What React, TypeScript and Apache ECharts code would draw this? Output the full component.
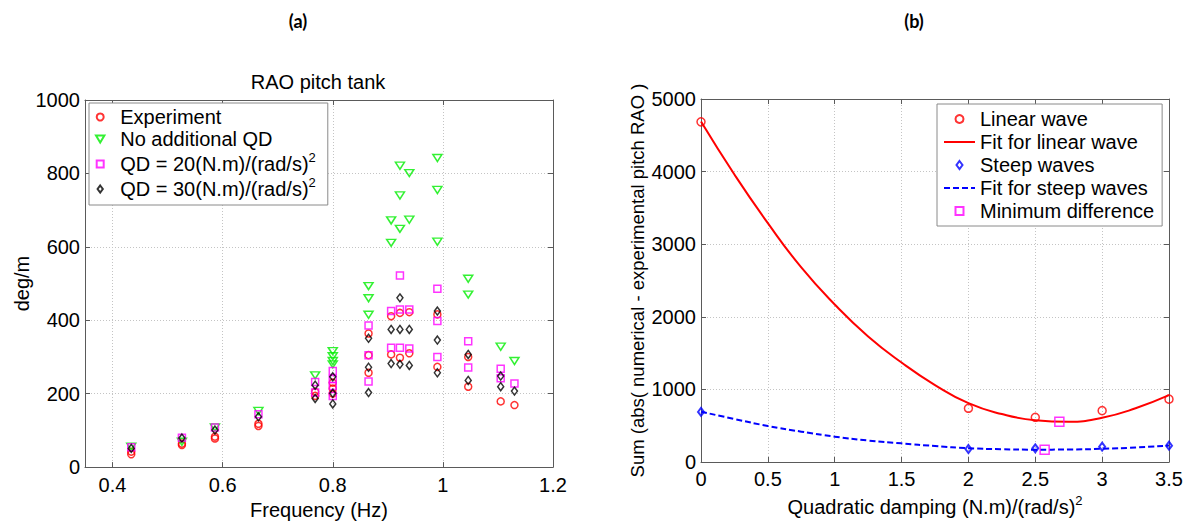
import React, { useEffect, useRef } from "react";
import * as echarts from "echarts";

const FONT = "'Liberation Sans', Arial, sans-serif";

// ---- Panel (a): RAO pitch tank, [frequency (Hz), deg/m] ----
const experiment: number[][] = [
  [0.434, 35], [0.434, 42],
  [0.526, 60], [0.526, 64],
  [0.586, 78], [0.586, 83],
  [0.665, 112], [0.665, 118],
  [0.768, 194], [0.768, 205],
  [0.8, 200], [0.8, 214], [0.8, 230],
  [0.865, 364], [0.865, 305], [0.865, 257],
  [0.906, 411], [0.906, 307],
  [0.922, 420], [0.922, 298],
  [0.939, 422], [0.939, 310],
  [0.99, 416], [0.99, 273],
  [1.046, 300], [1.046, 219],
  [1.105, 179],
  [1.13, 169],
];

const noAdditionalQD: number[][] = [
  [0.434, 56],
  [0.526, 69],
  [0.586, 108],
  [0.665, 153],
  [0.768, 250],
  [0.8, 316], [0.8, 302], [0.8, 289], [0.8, 280],
  [0.865, 493], [0.865, 460], [0.865, 415],
  [0.906, 672], [0.906, 611],
  [0.922, 821], [0.922, 740], [0.922, 649],
  [0.939, 801], [0.939, 674],
  [0.99, 842], [0.99, 755], [0.99, 614],
  [1.046, 513], [1.046, 470],
  [1.105, 328],
  [1.13, 289],
];

const qd20: number[][] = [
  [0.434, 54],
  [0.526, 80],
  [0.586, 108],
  [0.665, 144],
  [0.768, 232], [0.768, 203],
  [0.8, 262], [0.8, 240], [0.8, 221], [0.8, 194],
  [0.865, 386], [0.865, 305], [0.865, 233],
  [0.906, 425], [0.906, 325],
  [0.922, 522], [0.922, 429], [0.922, 325],
  [0.939, 429], [0.939, 323],
  [0.99, 486], [0.99, 398], [0.99, 300],
  [1.046, 343], [1.046, 271],
  [1.105, 268], [1.105, 242],
  [1.13, 228],
];

const qd30: number[][] = [
  [0.434, 51],
  [0.526, 79],
  [0.586, 101],
  [0.665, 137],
  [0.768, 223], [0.768, 187],
  [0.8, 246], [0.8, 201], [0.8, 172],
  [0.865, 351], [0.865, 272], [0.865, 203],
  [0.906, 375], [0.906, 282],
  [0.922, 461], [0.922, 375], [0.922, 280],
  [0.939, 375], [0.939, 277],
  [0.99, 425], [0.99, 346], [0.99, 257],
  [1.046, 307], [1.046, 236],
  [1.105, 248], [1.105, 219],
  [1.13, 207],
];

// ---- Panel (b): sum of differences vs quadratic damping ----
const dampingPoints = [0, 2, 2.5, 3, 3.5];
const linearWaveSum = [4685, 740, 616, 707, 866];
const steepWaveSum = [690, 179, 188, 211, 225];

const dampingFit = [0, 0.25, 0.5, 0.75, 1, 1.25, 1.5, 1.75, 2, 2.25, 2.5, 2.75, 3, 3.25, 3.5];
const linearWaveFit = [4690, 3960, 3290, 2680, 2170, 1730, 1370, 1060, 810, 660, 575, 553, 610, 740, 920];
const steepWaveFit = [693, 592, 496, 418, 349, 296, 257, 220, 190, 176, 170, 172, 182, 200, 226];

const minimumDifference: number[][] = [
  [2.68, 556],
  [2.57, 170],
];

const zip = (xs: number[], ys: number[]) => xs.map((x, i) => [x, ys[i]]);

// Legend marker outlines (kept square so they are not stretched to the icon box)
const ICON_SQUARE = "path://M0,0L8,0L8,8L0,8Z";
const ICON_DIAMOND = "path://M3,0L6,4L3,8L0,4Z";
const ICON_TRIANGLE_DOWN = "path://M0,0L9,0L4.5,7.5Z";

const axisLine = { show: true, onZero: false, lineStyle: { color: "#5a5a5a", width: 1 } };
const axisTick = { show: true, inside: true, length: 5, lineStyle: { color: "#5a5a5a" } };
const splitLine = { show: true, lineStyle: { color: "#c4c4c4", type: [1, 2], width: 1 } };
const axisLabel = {
  color: "#000",
  fontSize: 20,
  fontFamily: FONT,
  formatter: (v: number) => String(v),
};

const hollow = (color: string, width = 1.5) => ({
  color: "rgba(0,0,0,0)",
  borderColor: color,
  borderWidth: width,
});

const noMarker = { color: "rgba(0,0,0,0)", borderColor: "rgba(0,0,0,0)", borderWidth: 0 };

const richText = (lineHeight: number) => ({
  t: { fontSize: 20, lineHeight, fontFamily: FONT, color: "#000" },
  sup: { fontSize: 13, lineHeight: 13, verticalAlign: "top", fontFamily: FONT, color: "#000" },
});

export default function App() {
  const ref = useRef<HTMLDivElement>(null);

  useEffect(() => {
    if (!ref.current) return;
    const chart = echarts.init(ref.current, undefined, { renderer: "svg" });

    const option: any = {
      animation: false,
      backgroundColor: "#fff",
      textStyle: { fontFamily: FONT },
      graphic: [
        {
          type: "text",
          x: 298,
          y: 21,
          style: {
            text: "(a)",
            font: "bold 18px Lato, 'Open Sans', sans-serif",
            fill: "#000",
            textAlign: "center",
            textVerticalAlign: "middle",
          },
        },
        {
          type: "text",
          x: 914,
          y: 21,
          style: {
            text: "(b)",
            font: "bold 18px Lato, 'Open Sans', sans-serif",
            fill: "#000",
            textAlign: "center",
            textVerticalAlign: "middle",
          },
        },
        {
          type: "text",
          x: 318,
          y: 82,
          style: {
            text: "RAO pitch tank",
            font: `20px ${FONT}`,
            fill: "#000",
            textAlign: "center",
            textVerticalAlign: "middle",
          },
        },
      ],
      grid: [
        { left: 85, top: 100, width: 468, height: 368 },
        { left: 701, top: 99, width: 468, height: 363 },
      ],
      xAxis: [
        {
          gridIndex: 0,
          type: "value",
          position: "bottom",
          min: 0.35,
          max: 1.2,
          splitNumber: 5,
          axisLine,
          axisTick,
          splitLine,
          axisLabel: { ...axisLabel, margin: 8, showMinLabel: false },
          name: "Frequency (Hz)",
          nameLocation: "middle",
          nameGap: 28,
          nameTextStyle: { fontSize: 20, color: "#000", fontFamily: FONT },
        },
        {
          gridIndex: 0,
          type: "value",
          position: "top",
          min: 0.35,
          max: 1.2,
          splitNumber: 5,
          axisLine,
          axisTick,
          splitLine: { show: false },
          axisLabel: { show: false },
        },
        {
          gridIndex: 1,
          type: "value",
          position: "bottom",
          min: 0,
          max: 3.5,
          interval: 0.5,
          axisLine,
          axisTick,
          splitLine,
          axisLabel: { ...axisLabel, margin: 7 },
          name: "{t|Quadratic damping (N.m)/(rad/s)}{sup|2}",
          nameLocation: "middle",
          nameGap: 24,
          nameTextStyle: { fontSize: 20, color: "#000", fontFamily: FONT, rich: richText(26) },
        },
        {
          gridIndex: 1,
          type: "value",
          position: "top",
          min: 0,
          max: 3.5,
          interval: 0.5,
          axisLine,
          axisTick,
          splitLine: { show: false },
          axisLabel: { show: false },
        },
      ],
      yAxis: [
        {
          gridIndex: 0,
          type: "value",
          position: "left",
          min: 0,
          max: 1000,
          interval: 200,
          axisLine,
          axisTick,
          splitLine,
          axisLabel: { ...axisLabel, margin: 5 },
          name: "deg/m",
          nameLocation: "middle",
          nameGap: 42,
          nameRotate: 90,
          nameTextStyle: { fontSize: 20, color: "#000", fontFamily: FONT },
        },
        {
          gridIndex: 0,
          type: "value",
          position: "right",
          min: 0,
          max: 1000,
          interval: 200,
          axisLine,
          axisTick,
          splitLine: { show: false },
          axisLabel: { show: false },
        },
        {
          gridIndex: 1,
          type: "value",
          position: "left",
          min: 0,
          max: 5000,
          interval: 1000,
          axisLine,
          axisTick,
          splitLine,
          axisLabel: { ...axisLabel, margin: 5 },
          name: "Sum (abs( numerical - experimental pitch RAO )",
          nameLocation: "middle",
          nameGap: 54,
          nameRotate: 90,
          nameTextStyle: { fontSize: 18.5, color: "#000", fontFamily: FONT },
        },
        {
          gridIndex: 1,
          type: "value",
          position: "right",
          min: 0,
          max: 5000,
          interval: 1000,
          axisLine,
          axisTick,
          splitLine: { show: false },
          axisLabel: { show: false },
        },
      ],
      legend: [
        {
          data: [
            { name: "Experiment", icon: "circle" },
            { name: "No additional QD", icon: ICON_TRIANGLE_DOWN },
            { name: "QD = 20(N.m)/(rad/s)", icon: ICON_SQUARE },
            { name: "QD = 30(N.m)/(rad/s)", icon: ICON_DIAMOND },
          ],
          orient: "vertical",
          left: 89,
          top: 103,
          padding: [4, 12, 6, 6],
          itemGap: 2,
          itemWidth: 30,
          itemHeight: 7,
          selectedMode: false,
          backgroundColor: "#fff",
          borderColor: "#8a8a8a",
          borderWidth: 1,
          formatter: (name: string) =>
            name.startsWith("QD") ? `{t|${name}}{sup|2}` : `{t|${name}}`,
          textStyle: { fontSize: 20, color: "#000", fontFamily: FONT, rich: richText(26) },
        },
        {
          data: [
            { name: "Linear wave", icon: "circle" },
            { name: "Fit for linear wave", itemStyle: noMarker },
            { name: "Steep waves", icon: ICON_DIAMOND },
            { name: "Fit for steep waves", itemStyle: noMarker },
            { name: "Minimum difference", icon: ICON_SQUARE },
          ],
          orient: "vertical",
          left: 937,
          top: 104,
          padding: [5, 8, 5, 6],
          itemGap: 3,
          itemWidth: 31,
          itemHeight: 8,
          selectedMode: false,
          backgroundColor: "#fff",
          borderColor: "#8a8a8a",
          borderWidth: 1,
          formatter: (name: string) => `{t|${name}}`,
          textStyle: { fontSize: 20, color: "#000", fontFamily: FONT, rich: richText(22) },
        },
      ],
      series: [
        {
          name: "Experiment",
          type: "scatter",
          xAxisIndex: 0,
          yAxisIndex: 0,
          symbol: "circle",
          symbolSize: 7,
          itemStyle: hollow("#ff0000"),
          data: experiment,
          z: 3,
        },
        {
          name: "No additional QD",
          type: "scatter",
          xAxisIndex: 0,
          yAxisIndex: 0,
          symbol: "triangle",
          symbolRotate: 180,
          symbolSize: [9, 7],
          itemStyle: hollow("#00ee00"),
          data: noAdditionalQD,
          z: 3,
        },
        {
          name: "QD = 20(N.m)/(rad/s)",
          type: "scatter",
          xAxisIndex: 0,
          yAxisIndex: 0,
          symbol: "rect",
          symbolSize: 7,
          itemStyle: hollow("#ff00ff"),
          data: qd20,
          z: 3,
        },
        {
          name: "QD = 30(N.m)/(rad/s)",
          type: "scatter",
          xAxisIndex: 0,
          yAxisIndex: 0,
          symbol: "diamond",
          symbolSize: [6, 8],
          itemStyle: hollow("#000000"),
          data: qd30,
          z: 4,
        },
        {
          name: "Fit for linear wave",
          type: "line",
          xAxisIndex: 2,
          yAxisIndex: 2,
          smooth: true,
          symbol: "none",
          color: "#ff0000",
          lineStyle: { color: "#ff0000", width: 2 },
          data: zip(dampingFit, linearWaveFit),
          z: 2,
        },
        {
          name: "Fit for steep waves",
          type: "line",
          xAxisIndex: 2,
          yAxisIndex: 2,
          smooth: true,
          symbol: "none",
          color: "#0000ff",
          lineStyle: { color: "#0000ff", width: 2, type: [6, 3] },
          data: zip(dampingFit, steepWaveFit),
          z: 2,
        },
        {
          name: "Linear wave",
          type: "scatter",
          xAxisIndex: 2,
          yAxisIndex: 2,
          symbol: "circle",
          symbolSize: 8,
          itemStyle: hollow("#ff0000"),
          data: zip(dampingPoints, linearWaveSum),
          z: 3,
        },
        {
          name: "Steep waves",
          type: "scatter",
          xAxisIndex: 2,
          yAxisIndex: 2,
          symbol: "diamond",
          symbolSize: [6, 8],
          itemStyle: hollow("#0000ff", 2),
          data: zip(dampingPoints, steepWaveSum),
          z: 3,
        },
        {
          name: "Minimum difference",
          type: "scatter",
          xAxisIndex: 2,
          yAxisIndex: 2,
          symbol: "rect",
          symbolSize: 9,
          itemStyle: hollow("#ff00ff", 1.5),
          data: minimumDifference,
          z: 4,
        },
      ],
    };

    chart.setOption(option);
    return () => chart.dispose();
  }, []);

  return (
    <div
      ref={ref}
      style={{ position: "fixed", left: 0, top: 0, width: 1192, height: 525, background: "#fff" }}
    />
  );
}
